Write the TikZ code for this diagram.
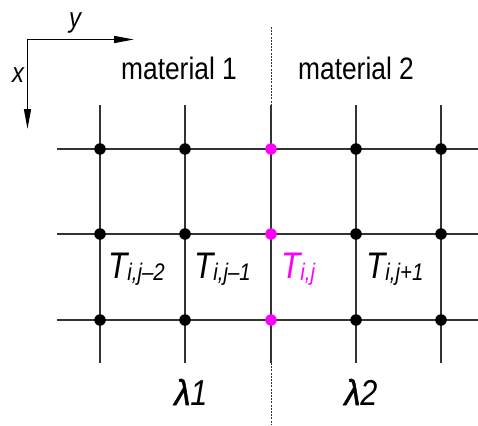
\documentclass[tikz,border=0pt]{standalone}
\usepackage{fontspec}
\setmainfont{Liberation Sans}
\newfontfamily\narrowfont[FakeStretch=0.85]{Liberation Sans}
\newfontfamily\lamfont[FakeStretch=0.9,FakeBold=1.5]{Liberation Sans}
\usetikzlibrary{arrows.meta}
\definecolor{mag}{HTML}{FF00FF}
\tikzset{
  gridline/.style={line width=2pt, draw=black!80},
  axisline/.style={line width=1.4pt, -{Triangle[length=20pt,width=7pt]}},
  sepline/.style={line width=0.8pt, dash pattern=on 2pt off 1.2pt, draw=black!80},
  dotnode/.style={circle, fill=black, inner sep=0pt, minimum size=11.5pt},
  magdot/.style={dotnode, fill=mag},
  mattext/.style={font=\narrowfont\fontsize{31}{31}\selectfont, inner sep=0pt},
  tlabel/.style={font=\narrowfont\itshape\fontsize{37}{37}\selectfont, inner sep=0pt, anchor=base west},
  axlabel/.style={font=\narrowfont\itshape\fontsize{28}{28}\selectfont, inner sep=0pt, anchor=base},
  lamlabel/.style={font=\narrowfont\itshape\fontsize{36}{36}\selectfont, inner sep=0pt, anchor=base},
}
\newcommand{\sbs}[1]{\lower2pt\hbox{\fontsize{24}{24}\selectfont #1}}
\newcommand{\lam}{{\lamfont\itshape λ}}
\begin{document}
\begin{tikzpicture}[x=1pt,y=-1pt]
\useasboundingbox (0,0) rectangle (478,425);
% separation line
\coordinate (sepT) at (271,27);
\coordinate (sepB) at (271,425);
\draw[sepline] (sepT) -- (sepB);
% grid end points
\foreach \c/\x in {1/100,2/185,3/271,4/356,5/441}{
  \coordinate (vT\c) at (\x,105);
  \coordinate (vB\c) at (\x,363);
}
\foreach \r/\y in {1/149,2/234,3/320}{
  \coordinate (hL\r) at (57,\y);
  \coordinate (hR\r) at (478,\y);
}
\foreach \c in {1,...,5}{ \draw[gridline] (vT\c) -- (vB\c); }
\foreach \r in {1,2,3}{ \draw[gridline] (hL\r) -- (hR\r); }
% dots
\foreach \c/\x in {1/100,2/185,4/356,5/441}{
  \foreach \r/\y in {1/149,2/234,3/320}{
    \node[dotnode] (d\c\r) at (\x,\y) {};
  }
}
\foreach \r/\y in {1/149,2/234,3/320}{
  \node[magdot] (d3\r) at (271,\y) {};
}
% axes
\coordinate (O) at (27.5,39.5);
\coordinate (ay) at (134,39.5);
\coordinate (ax) at (27.5,129);
\draw[axisline] (O) -- (ay);
\draw[axisline] (O) -- (ax);
\node[axlabel] (ylab) at (75,28) {y};
\node[axlabel] (xlab) at (18,83) {x};
% material labels
\node[mattext, anchor=base] (m1) at (179,80) {material 1};
\node[mattext, anchor=base] (m2) at (356,80) {material 2};
% temperature labels
\node[tlabel] (t1) at (108,278) {T\sbs{i,j–2}};
\node[tlabel] (t2) at (194,278) {T\sbs{i,j–1}};
\node[tlabel, text=mag] (t3) at (281,278) {T\sbs{i,j}};
\node[tlabel] (t4) at (366,278) {T\sbs{i,j+1}};
% lambda labels
\node[lamlabel] (l1) at (191,405) {\lam1};
\node[lamlabel] (l2) at (361,405) {\lam2};
\end{tikzpicture}
\end{document}
